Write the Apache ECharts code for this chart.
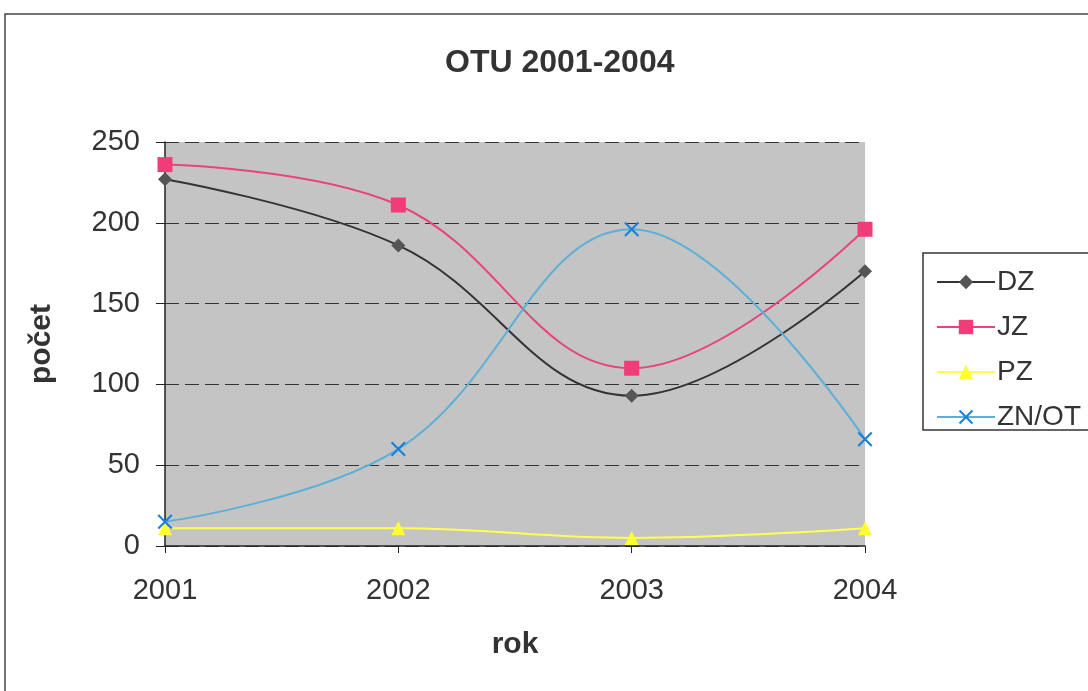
<!DOCTYPE html>
<html><head><meta charset="utf-8">
<script src="https://cdn.jsdelivr.net/npm/echarts@6/dist/echarts.min.js"></script>
<style>html,body{margin:0;padding:0;background:#fff}#c{width:1088px;height:691px}</style>
</head><body><div id="c"></div>
<script>
const categories = ['2001', '2002', '2003', '2004'];
const dz = [227, 186, 93, 170];
const jz = [236, 211, 110, 196];
const pz = [11, 11, 5, 11];
const znot = [15, 60, 196, 66];
const yTicks = [0, 50, 100, 150, 200, 250];

const crossPath = 'path://M0,1L1,0L5,4L9,0L10,1L6,5L10,9L9,10L5,6L1,10L0,9L4,5Z';
const font = 'Liberation Sans, Arial, sans-serif';

const chart = echarts.init(document.getElementById('c'));
chart.setOption({
  backgroundColor: '#fff',
  animation: false,
  title: {
    text: 'OTU 2001-2004', left: 440, top: 42,
    textStyle: { fontFamily: font, fontSize: 32, fontWeight: 'bold', color: '#333' }
  },
  graphic: [
    { type: 'rect', shape: { x: 5, y: 14, width: 1100, height: 700 },
      style: { fill: 'none', stroke: '#444', lineWidth: 1.5 }, silent: true },
    { type: 'rect', shape: { x: 923, y: 253, width: 180, height: 177 },
      style: { fill: '#fff', stroke: '#333', lineWidth: 1.5 }, silent: true, z: 1 }
  ],
  legend: {
    orient: 'vertical', left: 931, top: 263, itemGap: 17, itemWidth: 58, itemHeight: 18,
    z: 5,
    textStyle: { fontFamily: font, fontSize: 28, color: '#333', padding: [0, 0, 0, -3] },
    data: ['DZ', 'JZ', 'PZ', 'ZN/OT']
  },
  grid: { left: 165, right: 223, top: 142, bottom: 145, show: true, backgroundColor: '#c4c4c4', borderWidth: 0 },
  xAxis: {
    type: 'category', data: categories, boundaryGap: false,
    name: 'rok', nameLocation: 'middle', nameGap: 84,
    nameTextStyle: { fontFamily: font, fontSize: 30, fontWeight: 'bold', color: '#333' },
    axisLine: { lineStyle: { color: '#222', width: 1.5 } },
    axisTick: { show: true, alignWithLabel: true, length: 7, lineStyle: { color: '#222' } },
    axisLabel: { fontFamily: font, fontSize: 29, color: '#333', margin: 30 },
    splitLine: { show: false }
  },
  yAxis: {
    type: 'value', min: yTicks[0], max: yTicks[yTicks.length - 1], interval: 50,
    name: 'počet', nameLocation: 'middle', nameGap: 108, nameRotate: 90,
    nameTextStyle: { fontFamily: font, fontSize: 30, fontWeight: 'bold', color: '#333' },
    axisLine: { show: true, lineStyle: { color: '#222', width: 1.5 } },
    axisTick: { show: true, length: 9, lineStyle: { color: '#222' } },
    axisLabel: { fontFamily: font, fontSize: 29, color: '#333', margin: 25 },
    splitLine: { show: true, lineStyle: { color: '#333', type: [14, 6], width: 1.2 } }
  },
  series: [
    { name: 'DZ', type: 'line', data: dz, smooth: 0.4, symbol: 'diamond', symbolSize: 14,
      itemStyle: { color: '#555' }, lineStyle: { color: '#333', width: 2 } },
    { name: 'JZ', type: 'line', data: jz, smooth: 0.4, symbol: 'rect', symbolSize: 15,
      itemStyle: { color: '#f03c78' }, lineStyle: { color: '#e8447c', width: 2 } },
    { name: 'PZ', type: 'line', data: pz, smooth: 0.4, symbol: 'triangle', symbolSize: 14,
      itemStyle: { color: '#ffff30' }, lineStyle: { color: '#ffff50', width: 2 } },
    { name: 'ZN/OT', type: 'line', data: znot, smooth: 0.4, symbol: crossPath, symbolSize: 15,
      itemStyle: { color: '#1a80d8' }, lineStyle: { color: '#5cb0d8', width: 2 } }
  ]
});
</script></body></html>
